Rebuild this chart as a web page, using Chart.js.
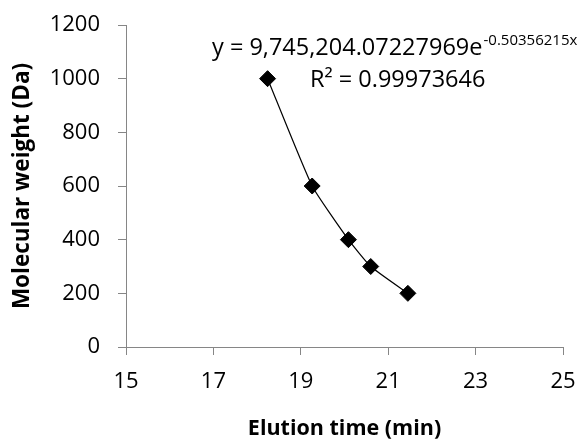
<!DOCTYPE html>
<html><head><meta charset="utf-8">
<script src="https://cdn.jsdelivr.net/npm/chart.js@4"></script>
<style>html,body{margin:0;padding:0;background:#fff}#wrap{width:586px;height:439px}</style>
</head><body><div id="wrap"><canvas id="c" width="586" height="439"></canvas></div>
<script>
const elutionTime = [18.24, 19.26, 20.09, 20.60, 21.45];
const molecularWeight = [1000, 600, 400, 300, 200];
const xTicks = [15, 17, 19, 21, 23, 25];
const yTicks = [0, 200, 400, 600, 800, 1000, 1200];
const xTitle = 'Elution time (min)';
const yTitle = 'Molecular weight (Da)';
const eqMain = 'y = 9,745,204.07227969e';
const eqExp = '-0.50356215x';
const r2Text = 'R² = 0.99973646';

const FONT = "'Open Sans', sans-serif";
const pts = elutionTime.map((x, i) => ({x, y: molecularWeight[i]}));
const axisColor = '#868686';

const labelPlugin = {
  id: 'eqLabel',
  afterDatasetsDraw(chart) {
    const ctx = chart.ctx;
    ctx.save();
    ctx.fillStyle = '#000';
    ctx.textBaseline = 'alphabetic';
    ctx.textAlign = 'left';
    ctx.font = '23.5px ' + FONT;
    const x0 = 212, base = 55;
    ctx.fillText(eqMain, x0, base);
    const w = ctx.measureText(eqMain).width;
    ctx.font = '15px ' + FONT;
    ctx.fillText(eqExp, x0 + w + 1, base - 10);
    ctx.font = '23.5px ' + FONT;
    ctx.fillText(r2Text, 310, 87);
    ctx.restore();
  }
};

new Chart(document.getElementById('c'), {
  type: 'scatter',
  data: {
    datasets: [
      {
        data: pts,
        showLine: true,
        borderColor: '#000',
        borderWidth: 1.2,
        tension: 0.15,
        pointRadius: 0,
        pointHoverRadius: 0,
        order: 2
      },
      {
        data: pts,
        showLine: false,
        pointStyle: 'rectRot',
        pointRadius: 8,
        backgroundColor: '#000',
        borderColor: '#000',
        borderWidth: 1,
        order: 1
      }
    ]
  },
  options: {
    responsive: false,
    animation: false,
    devicePixelRatio: 1,
    layout: {padding: {top: 25, right: 23, left: 0, bottom: 0}},
    plugins: {legend: {display: false}, tooltip: {enabled: false}},
    scales: {
      x: {
        type: 'linear', min: 15, max: 25,
        afterBuildTicks: s => { s.ticks = xTicks.map(v => ({value: v})); },
        afterFit: s => { s.height = 92; s.paddingLeft = 0; s.paddingRight = 0; },
        border: {color: axisColor, width: 1},
        grid: {display: true, drawOnChartArea: false, drawTicks: true, tickLength: 8, color: axisColor},
        ticks: {color: '#000', font: {family: FONT, size: 22}, padding: 14, maxRotation: 0, callback: v => String(v)},
        title: {display: true, text: xTitle, color: '#000', font: {family: FONT, size: 21.5, weight: 'bold'}, padding: {top: 0, bottom: -3}}
      },
      y: {
        type: 'linear', min: 0, max: 1200,
        afterBuildTicks: s => { s.ticks = yTicks.map(v => ({value: v})); },
        afterFit: s => { s.width = 126; s.paddingTop = 0; s.paddingBottom = 0; },
        border: {color: axisColor, width: 1},
        grid: {display: true, drawOnChartArea: false, drawTicks: true, tickLength: 8, color: axisColor},
        ticks: {color: '#000', font: {family: FONT, size: 22}, padding: 18, callback: v => String(v)},
        title: {display: true, text: yTitle, color: '#000', font: {family: FONT, size: 22.5, weight: 'bold'}, padding: {top: 9, bottom: 0}}
      }
    }
  },
  plugins: [labelPlugin]
});
</script></body></html>
